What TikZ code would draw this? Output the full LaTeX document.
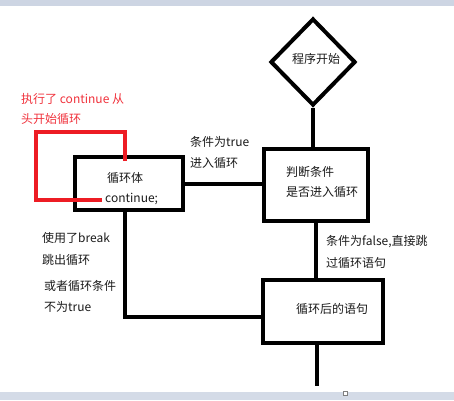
\documentclass[tikz,border=0pt]{standalone}
\usepackage{fontspec}
\newfontfamily\cjk{Noto Sans CJK SC}
\usetikzlibrary{shapes.geometric}
\definecolor{paintred}{HTML}{ED1C24}
\definecolor{textred}{HTML}{F0323C}
\definecolor{barcol}{HTML}{CDD5E3}
\definecolor{ink}{HTML}{1A1A1A}
\tikzset{
  flowbox/.style={draw=black, line width=4pt, rectangle, inner sep=0pt},
  startdia/.style={draw=black, line width=4pt, diamond, inner sep=0pt, minimum width=85pt, minimum height=87pt},
  conn/.style={draw=black, line width=4pt},
  redconn/.style={draw=paintred, line width=4pt},
  txt/.style={anchor=west, inner sep=0pt, text=ink, font=\cjk\fontsize{12}{14}\selectfont},
  redtxt/.style={txt, text=textred},
}
\begin{document}
\begin{tikzpicture}[x=1pt,y=-1pt]
\useasboundingbox (0,0) rectangle (454,400);
% window bars
\fill[barcol] (0,0) rectangle (454,6);
\fill[barcol!85!white] (0,392) rectangle (454,400);
\draw[gray, line width=0.6pt, fill=white] (343.5,391.5) rectangle (347,395);

% shapes
\node[startdia] (start) at (313,62) {};
\node[flowbox, minimum width=104pt, minimum height=72pt] (judge) at (316,185) {};
\node[flowbox, minimum width=108pt, minimum height=53pt] (loop) at (129,183.5) {};
\node[flowbox, minimum width=120pt, minimum height=63pt] (after) at (323,311.5) {};

% texts
\node[txt, anchor=center] (tstart) at (316,59) {程序开始};
\node[txt] (tj1) at (286,172) {判断条件};
\node[txt] (tj2) at (286,192) {是否进入循环};
\node[txt] (tafter) at (296,309) {循环后的语句};
\node[txt] (tl1) at (107,178) {循环体};
\node[txt] (tl2) at (105,199) {continue;};
\node[txt] (tt1) at (190,142) {条件为true};
\node[txt] (tt2) at (190,163) {进入循环};
\node[txt] (tb1) at (42,238) {使用了break};
\node[txt] (tb2) at (42,260) {跳出循环};
\node[txt] (tb3) at (44,286) {或者循环条件};
\node[txt] (tb4) at (44,307) {不为true};
\node[txt] (tf1) at (326,242) {条件为false,直接跳};
\node[txt] (tf2) at (326,263) {过循环语句};
\node[redtxt] (tr1) at (21,99) {执行了 continue 从};
\node[redtxt] (tr2) at (21,119) {头开始循环};

% connectors
\coordinate (brk) at (125,317);
\coordinate (endpt) at (317,386);
\draw[conn] (start.south) -- (start.south |- judge.north);
\draw[conn] (loop.east) -- (loop.east -| judge.west);
\draw[conn] (judge.south) -- (judge.south |- after.north);
\draw[conn] (loop.south -| brk) -- (brk) -- (brk -| after.west);
\draw[conn] (after.south -| endpt) -- (endpt);

% red continue loop
\coordinate (r0) at (125,161);
\coordinate (r1) at (125,132);
\coordinate (r2) at (36,132);
\coordinate (r3) at (36,200);
\coordinate (r4) at (102,200);
\draw[redconn] (r0) -- (r1) -- (r2) -- (r3) -- (r4);
\end{tikzpicture}
\end{document}
